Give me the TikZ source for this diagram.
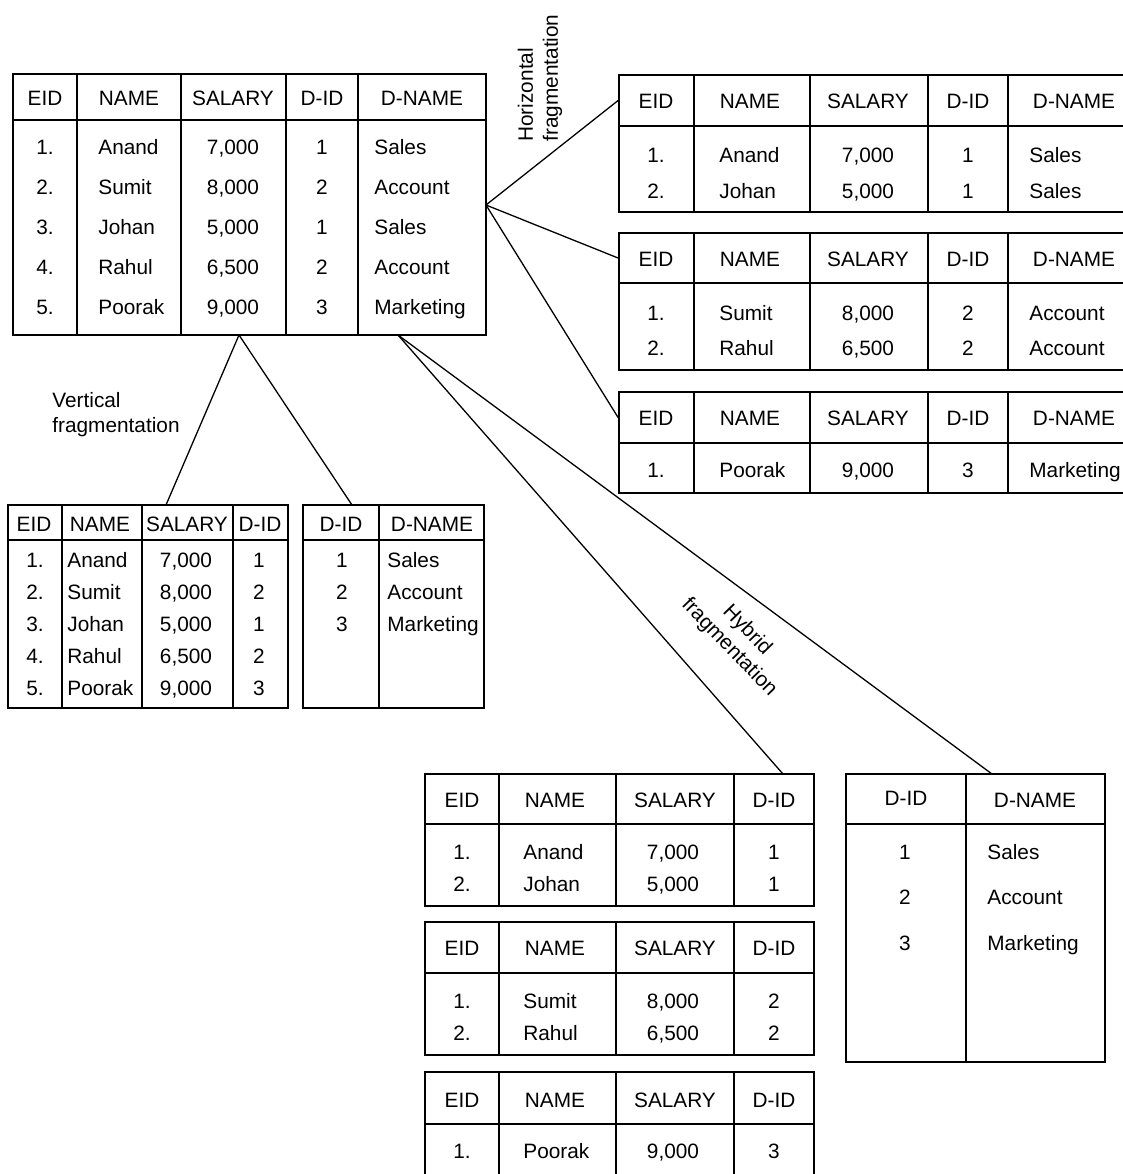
\documentclass[tikz,border=0pt]{standalone}
\usepackage{fontspec}
\setmainfont{Liberation Sans}
\usetikzlibrary{fit}

\begin{document}
\begin{tikzpicture}[x=0.5pt,y=-0.5pt,
  font=\fontsize{10.4}{12.4}\selectfont,
  tabbox/.style={draw, line width=0.9pt, inner sep=0pt},
  rule/.style={line width=0.9pt},
  cell/.style={inner sep=0pt, text height=7.4pt, text depth=0pt},
  link/.style={line width=0.65pt},
  note/.style={inner sep=0pt, align=left}
]
 \useasboundingbox (0,0) rectangle (1123,1174);
 \clip (0,0) rectangle (1123,1174);

 % original relation
 \node[tabbox, fit={(13,74) (486,120)}] (emphead) {};
 \node[tabbox, fit={(13,120) (486,335)}] (empbody) {};
 \foreach \x in {77,181,286,358} \draw[rule] (\x,74) -- (\x,335);
 \foreach \x/\t [count=\i] in {45/EID,129/NAME,233/SALARY,322/D-ID,422/D-NAME}
   \node[cell] (emph\i) at (\x,98) {\t};
 \foreach \y/\e/\n/\s/\d/\m [count=\i] in {147/1./Anand/{7,000}/1/Sales,
     187/2./Sumit/{8,000}/2/Account, 227/3./Johan/{5,000}/1/Sales,
     267/4./Rahul/{6,500}/2/Account, 307/5./Poorak/{9,000}/3/Marketing}{
   \node[cell] (empe\i) at (45,\y) {\e};
   \node[cell,anchor=west] (empn\i) at (98,\y) {\n};
   \node[cell] (emps\i) at (233,\y) {\s};
   \node[cell] (empd\i) at (322,\y) {\d};
   \node[cell,anchor=west] (empm\i) at (374,\y) {\m};
 }

 % horizontal fragments
 \node[tabbox, fit={(619,75) (1150,126)}] (hor1head) {};
 \node[tabbox, fit={(619,126) (1150,212)}] (hor1body) {};
 \node[tabbox, fit={(619,233) (1150,283)}] (hor2head) {};
 \node[tabbox, fit={(619,283) (1150,370)}] (hor2body) {};
 \node[tabbox, fit={(619,392) (1150,443)}] (hor3head) {};
 \node[tabbox, fit={(619,443) (1150,493)}] (hor3body) {};
 \foreach \x in {694,810,928,1008} {
   \draw[rule] (\x,75) -- (\x,212);
   \draw[rule] (\x,233) -- (\x,370);
   \draw[rule] (\x,392) -- (\x,493);
 }
 \foreach \y [count=\j] in {101,259,418}
   \foreach \x/\t [count=\i] in {656/EID,750/NAME,868/SALARY,968/D-ID,1074/D-NAME}
     \node[cell] (hor\j h\i) at (\x,\y) {\t};
 \foreach \y/\e/\n/\s/\d/\m [count=\i] in {155/1./Anand/{7,000}/1/Sales,
     191/2./Johan/{5,000}/1/Sales, 313/1./Sumit/{8,000}/2/Account,
     348/2./Rahul/{6,500}/2/Account, 470/1./Poorak/{9,000}/3/Marketing}{
   \node[cell] (hore\i) at (656,\y) {\e};
   \node[cell,anchor=west] (horn\i) at (719,\y) {\n};
   \node[cell] (hors\i) at (868,\y) {\s};
   \node[cell] (hord\i) at (968,\y) {\d};
   \node[cell,anchor=west] (horm\i) at (1029,\y) {\m};
 }

 % vertical fragments
 \node[tabbox, fit={(8,505) (288,540)}] (vert1head) {};
 \node[tabbox, fit={(8,540) (288,708)}] (vert1body) {};
 \foreach \x in {62,142,233} \draw[rule] (\x,505) -- (\x,708);
 \foreach \x/\t [count=\i] in {34/EID,100/NAME,187/SALARY,260/D-ID}
   \node[cell] (vert1h\i) at (\x,524) {\t};
 \foreach \y/\e/\n/\s/\d [count=\i] in {560/1./Anand/{7,000}/1,
     592/2./Sumit/{8,000}/2, 624/3./Johan/{5,000}/1,
     656/4./Rahul/{6,500}/2, 688/5./Poorak/{9,000}/3}{
   \node[cell] (vert1e\i) at (35,\y) {\e};
   \node[cell,anchor=west] (vert1n\i) at (67,\y) {\n};
   \node[cell] (vert1s\i) at (186,\y) {\s};
   \node[cell] (vert1d\i) at (259,\y) {\d};
 }
 \node[tabbox, fit={(303,505) (484,540)}] (vert2head) {};
 \node[tabbox, fit={(303,540) (484,708)}] (vert2body) {};
 \draw[rule] (379,505) -- (379,708);
 \node[cell] (vert2h1) at (341,524) {D-ID};
 \node[cell] (vert2h2) at (432,524) {D-NAME};
 \foreach \y/\d/\m [count=\i] in {560/1/Sales,592/2/Account,624/3/Marketing}{
   \node[cell] (vert2d\i) at (342,\y) {\d};
   \node[cell,anchor=west] (vert2m\i) at (387,\y) {\m};
 }

 % hybrid fragments
 \node[tabbox, fit={(425,774) (814,824)}] (hyb1head) {};
 \node[tabbox, fit={(425,824) (814,906)}] (hyb1body) {};
 \node[tabbox, fit={(425,922) (814,973)}] (hyb2head) {};
 \node[tabbox, fit={(425,973) (814,1055)}] (hyb2body) {};
 \node[tabbox, fit={(425,1072) (814,1124)}] (hyb3head) {};
 \node[tabbox, fit={(425,1124) (814,1204)}] (hyb3body) {};
 \foreach \x in {499,616,734} {
   \draw[rule] (\x,774) -- (\x,906);
   \draw[rule] (\x,922) -- (\x,1055);
   \draw[rule] (\x,1072) -- (\x,1204);
 }
 \foreach \y [count=\j] in {800,948,1100}
   \foreach \x/\t [count=\i] in {462/EID,555/NAME,675/SALARY,774/D-ID}
     \node[cell] (hyb\j h\i) at (\x,\y) {\t};
 \foreach \y/\e/\n/\s/\d [count=\i] in {852/1./Anand/{7,000}/1,
     884/2./Johan/{5,000}/1, 1001/1./Sumit/{8,000}/2,
     1033/2./Rahul/{6,500}/2, 1151/1./Poorak/{9,000}/3}{
   \node[cell] (hybe\i) at (462,\y) {\e};
   \node[cell,anchor=west] (hybn\i) at (523,\y) {\n};
   \node[cell] (hybs\i) at (673,\y) {\s};
   \node[cell] (hybd\i) at (774,\y) {\d};
 }
 \node[tabbox, fit={(846,774) (1105,824)}] (hyb4head) {};
 \node[tabbox, fit={(846,824) (1105,1062)}] (hyb4body) {};
 \draw[rule] (966,774) -- (966,1062);
 \node[cell] (hyb4h1) at (906,798) {D-ID};
 \node[cell] (hyb4h2) at (1035,800) {D-NAME};
 \foreach \y/\d/\m [count=\i] in {852/1/Sales,897/2/Account,943/3/Marketing}{
   \node[cell] (hyb4d\i) at (905,\y) {\d};
   \node[cell,anchor=west] (hyb4m\i) at (987,\y) {\m};
 }

 % connectors
 \coordinate (hsplit) at (486,205);
 \coordinate (vsplit) at (239,335);
 \coordinate (ysplit) at (398,335);
 \coordinate (vend1) at (166,505);
 \coordinate (vend2) at (352,505);
 \coordinate (yend1) at (783,774);
 \coordinate (yend2) at (992,774);
 \draw[link] (hsplit) -- (hor1head.west);
 \draw[link] (hsplit) -- (hor2head.west);
 \draw[link] (hsplit) -- (hor3head.west);
 \draw[link] (vsplit) -- (vend1);
 \draw[link] (vsplit) -- (vend2);
 \draw[link] (ysplit) -- (yend1);
 \draw[link] (ysplit) -- (yend2);

 % labels
 \node[note, rotate=90, anchor=west] (hlabel) at (540,142) {Horizontal\\fragmentation};
 \node[note, anchor=west] (vlabel) at (52,415) {Vertical\\fragmentation};
 \node[note, rotate=-46, align=center] (ylabel) at (738,639) {Hybrid\\fragmentation};
\end{tikzpicture}
\end{document}
